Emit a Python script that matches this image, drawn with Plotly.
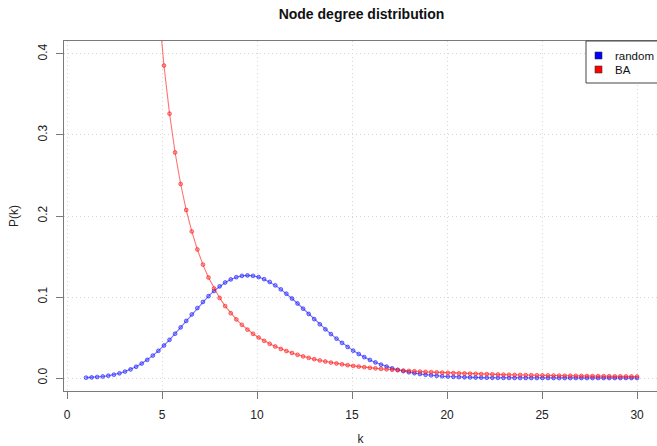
import plotly.graph_objects as go

k = [1.0000, 1.2929, 1.5859, 1.8788, 2.1717, 2.4646, 2.7576, 3.0505, 3.3434, 3.6364,
     3.9293, 4.2222, 4.5152, 4.8081, 5.1010, 5.3939, 5.6869, 5.9798, 6.2727, 6.5657,
     6.8586, 7.1515, 7.4444, 7.7374, 8.0303, 8.3232, 8.6162, 8.9091, 9.2020, 9.4949,
     9.7879, 10.0808, 10.3737, 10.6667, 10.9596, 11.2525, 11.5455, 11.8384, 12.1313, 12.4242,
     12.7172, 13.0101, 13.3030, 13.5960, 13.8889, 14.1818, 14.4747, 14.7677, 15.0606, 15.3535,
     15.6465, 15.9394, 16.2323, 16.5253, 16.8182, 17.1111, 17.4040, 17.6970, 17.9899, 18.2828,
     18.5758, 18.8687, 19.1616, 19.4545, 19.7475, 20.0404, 20.3333, 20.6263, 20.9192, 21.2121,
     21.5051, 21.7980, 22.0909, 22.3838, 22.6768, 22.9697, 23.2626, 23.5556, 23.8485, 24.1414,
     24.4343, 24.7273, 25.0202, 25.3131, 25.6061, 25.8990, 26.1919, 26.4848, 26.7778, 27.0707,
     27.3636, 27.6566, 27.9495, 28.2424, 28.5354, 28.8283, 29.1212, 29.4141, 29.7071, 30.0000]

random_p = [0.00045, 0.00077, 0.00124, 0.00192, 0.00286, 0.00414, 0.00582, 0.00797, 0.01066, 0.01395,
            0.01787, 0.02246, 0.02772, 0.03363, 0.04015, 0.04720, 0.05470, 0.06251, 0.07050, 0.07851,
            0.08638, 0.09394, 0.10102, 0.10747, 0.11315, 0.11793, 0.12173, 0.12448, 0.12613, 0.12668,
            0.12615, 0.12458, 0.12203, 0.11859, 0.11437, 0.10948, 0.10404, 0.09816, 0.09198, 0.08560,
            0.07913, 0.07269, 0.06634, 0.06017, 0.05425, 0.04862, 0.04332, 0.03837, 0.03379, 0.02962,
            0.02580, 0.02237, 0.01928, 0.01654, 0.01412, 0.01199, 0.01013, 0.00852, 0.00714, 0.00595,
            0.00493, 0.00407, 0.00335, 0.00274, 0.00223, 0.00181, 0.00147, 0.00118, 0.00095, 0.00076,
            0.00060, 0.00048, 0.00038, 0.00030, 0.00023, 0.00018, 0.00014, 0.00011, 0.00008, 0.00006,
            0.00005, 0.00004, 0.00003, 0.00002, 0.00002, 0.00001, 0.00001, 0.00001, 0.00001, 0.00000,
            0.00000, 0.00000, 0.00000, 0.00000, 0.00000, 0.00000, 0.00000, 0.00000, 0.00000, 0.00000]

ba_p = [51.2, 23.69, 12.84, 7.72, 5.00, 3.42, 2.44, 1.804, 1.370, 1.065,
        0.844, 0.680, 0.556, 0.4606, 0.3857, 0.3263, 0.2784, 0.2395, 0.2074, 0.1809,
        0.1587, 0.1400, 0.1241, 0.1105, 0.0989, 0.0888, 0.0800, 0.0724, 0.0657, 0.0598,
        0.0546, 0.0500, 0.0459, 0.0422, 0.0389, 0.0359, 0.0333, 0.0309, 0.0287, 0.0267,
        0.0249, 0.0233, 0.0217, 0.0204, 0.0191, 0.0180, 0.0169, 0.0159, 0.0150, 0.0141,
        0.0134, 0.0126, 0.0120, 0.0113, 0.0108, 0.0102, 0.0097, 0.0092, 0.0088, 0.0084,
        0.0080, 0.0076, 0.0073, 0.0070, 0.0067, 0.0064, 0.0061, 0.0058, 0.0056, 0.0054,
        0.0052, 0.0049, 0.0048, 0.0046, 0.0044, 0.0042, 0.0041, 0.0039, 0.0038, 0.0036,
        0.0035, 0.0034, 0.0033, 0.0032, 0.0031, 0.0030, 0.0029, 0.0028, 0.0027, 0.0026,
        0.0025, 0.0024, 0.0024, 0.0023, 0.0022, 0.0021, 0.0021, 0.0020, 0.0020, 0.0019]

x_ticks = [0, 5, 10, 15, 20, 25, 30]
y_ticks = [0.0, 0.1, 0.2, 0.3, 0.4]
y_tick_labels = ["0.0", "0.1", "0.2", "0.3", "0.4"]
series_names = ["random", "BA"]
series_colors = ["#0000ff", "#ff0000"]

FONT = "Liberation Sans, Arial, Helvetica, sans-serif"
AX = "#7a7a7a"
W, H = 657, 446
L, R, T, B = 64, 0, 41, 55
PW, PH = W - L - R, H - T - B


def px_x(page_px):
    return (page_px - L) / PW


def px_y(page_py):
    return (H - B - page_py) / PH


fig = go.Figure()

fig.add_trace(go.Scatter(
    x=k, y=random_p, mode="lines+markers", name=series_names[0], showlegend=False,
    line=dict(color="rgba(0,0,255,0.55)", width=1.1),
    marker=dict(symbol="circle", size=3.8, color="rgba(70,70,255,0.45)",
                line=dict(color="rgba(0,0,255,0.6)", width=0.9)),
))
fig.add_trace(go.Scatter(
    x=k, y=ba_p, mode="lines+markers", name=series_names[1], showlegend=False,
    line=dict(color="rgba(255,0,0,0.55)", width=1.1),
    marker=dict(symbol="circle", size=3.8, color="rgba(255,70,70,0.45)",
                line=dict(color="rgba(255,0,0,0.6)", width=0.9)),
))

# legend box drawn like R's legend() at the top right
shapes = [dict(type="rect", xref="paper", yref="paper",
               x0=px_x(586), x1=px_x(700), y0=px_y(83), y1=px_y(41),
               line=dict(color="#444", width=1), fillcolor="white", layer="above")]
annotations = []
for i, (name, col) in enumerate(zip(series_names, series_colors)):
    cy = 55.5 + i * 14
    shapes.append(dict(type="rect", xref="paper", yref="paper",
                       x0=px_x(595), x1=px_x(602), y0=px_y(cy + 3.5), y1=px_y(cy - 3.5),
                       line=dict(color="#333", width=0.6), fillcolor=col, layer="above"))
    annotations.append(dict(text=name, xref="paper", yref="paper",
                            x=px_x(613), y=px_y(cy), xanchor="left", yanchor="middle",
                            showarrow=False, font=dict(size=11.5, color="#111", family=FONT)))

fig.update_layout(
    width=W, height=H,
    margin=dict(l=L, r=R, t=T, b=B, autoexpand=False),
    paper_bgcolor="white", plot_bgcolor="white",
    font=dict(family=FONT, size=12, color="#222"),
    title=dict(text="<b>Node degree distribution</b>", x=361.5 / W, xanchor="center",
               y=1 - 14 / H, yanchor="middle", font=dict(size=14, color="#111", family=FONT)),
    showlegend=False,
    shapes=shapes, annotations=annotations,
)

fig.update_xaxes(
    range=[-0.16, 31.05], tickmode="array", tickvals=x_ticks,
    ticks="outside", ticklen=7, tickcolor=AX, tickwidth=1, ticklabelstandoff=5,
    showline=True, linecolor=AX, linewidth=1.3, mirror=True,
    showgrid=True, gridcolor="#d6d6d6", griddash="1px,3px", gridwidth=1,
    zeroline=False, tickfont=dict(size=12, color="#222"),
    title=dict(text="k", font=dict(size=12, color="#222"), standoff=14),
)
fig.update_yaxes(
    range=[-0.016, 0.416], tickmode="array", tickvals=y_ticks, ticktext=y_tick_labels,
    ticks="outside", ticklen=7, tickcolor=AX, tickwidth=1, tickangle=-90, ticklabelstandoff=4,
    showline=True, linecolor=AX, linewidth=1.3, mirror=False,
    showgrid=True, gridcolor="#d6d6d6", griddash="1px,3px", gridwidth=1,
    zeroline=False, tickfont=dict(size=12, color="#222"),
    title=dict(text="P(k)", font=dict(size=12, color="#222"), standoff=14),
)

# remove the browser's default 8px body margin so the figure fills the window
fig.write_html("out.html", config={"displayModeBar": False},
               post_script="document.body.style.margin='0px';")
